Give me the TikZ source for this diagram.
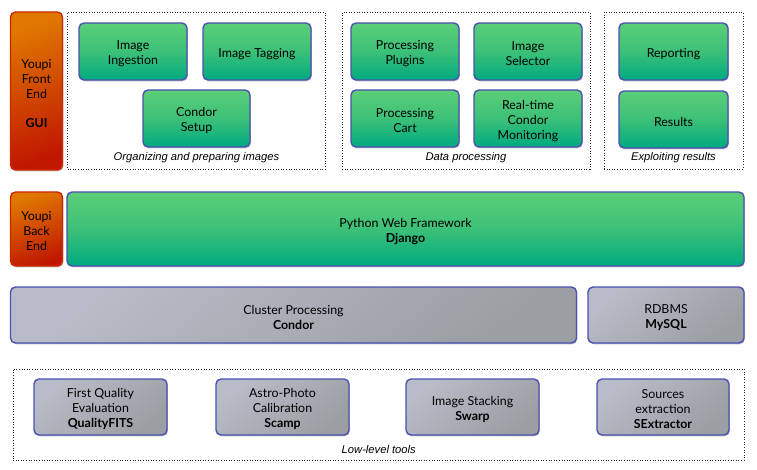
\documentclass[tikz,border=0pt]{standalone}
\usepackage{fontspec}
\setmainfont{Lato}
\newfontfamily\labfont{Liberation Sans}
\usetikzlibrary{shadows}
\definecolor{gtop}{HTML}{5CCE78}
\definecolor{gmid}{HTML}{3CC078}
\definecolor{gbot}{HTML}{00AA80}
\definecolor{bord}{HTML}{4B50B2}
\definecolor{otop}{HTML}{E07800}
\definecolor{obot}{HTML}{C01800}
\definecolor{obord}{HTML}{CC2600}
\definecolor{grtop}{HTML}{B8BCC8}
\definecolor{grbot}{HTML}{9B9EA2}
\begin{document}
\begin{tikzpicture}[x=1pt,y=-1pt,
  box/.style={rounded corners=5pt, line width=1.4pt, inner sep=0pt,
    drop shadow={shadow xshift=0.8pt, shadow yshift=-1.3pt, opacity=0.25, fill=black}},
  greenbox/.style={box, draw=bord, top color=gtop, bottom color=gbot, middle color=gmid},
  orangebox/.style={box, draw=obord, top color=otop, bottom color=obot, shading angle=20},
  greybox/.style={box, draw=bord, top color=grtop, bottom color=grbot, shading angle=40},
  boxtext/.style={align=center, inner sep=0pt, yshift=-2.3pt,
    font=\fontsize{12.4}{15}\selectfont},
  dotbox/.style={draw=black!85, line width=0.7pt, dash pattern=on 1pt off 1.6pt, inner sep=0pt},
  grplabel/.style={font=\labfont\itshape\fontsize{11.2}{13}\selectfont, inner sep=0pt}
]
\useasboundingbox (0,0) rectangle (757,470);

% group frames
\node[dotbox, minimum width=258pt, minimum height=156.5pt] (grp1) at (196.5,90.75) {};
\node[dotbox, minimum width=248pt, minimum height=156.5pt] (grp2) at (466,90.75) {};
\node[dotbox, minimum width=139pt, minimum height=156.5pt] (grp3) at (673.5,90.75) {};
\node[dotbox, minimum width=731.5pt, minimum height=91pt] (grp4) at (378.75,414.5) {};

% front end
\node[orangebox, minimum width=52pt, minimum height=158pt] (fe) at (36.5,91) {};
\node[boxtext] (fe-t) at (fe.center) {Youpi\\Front\\End\\[14pt]{\bfseries GUI}};

% group 1
\node[greenbox, minimum width=108pt, minimum height=57pt] (ingest) at (133,51.5) {};
\node[boxtext] (ingest-t) at (ingest.center) {Image\\Ingestion};
\node[greenbox, minimum width=108pt, minimum height=57pt] (tag) at (257,51.5) {};
\node[boxtext] (tag-t) at (tag.center) {Image Tagging};
\node[greenbox, minimum width=107pt, minimum height=57pt] (csetup) at (196.5,118.5) {};
\node[boxtext] (csetup-t) at (csetup.center) {Condor\\Setup};
\node[grplabel] (l1) at (196.5,158) {Organizing and preparing images};

% group 2
\node[greenbox, minimum width=108pt, minimum height=57pt] (plug) at (405,51.5) {};
\node[boxtext] (plug-t) at (plug.center) {Processing\\Plugins};
\node[greenbox, minimum width=108pt, minimum height=57pt] (sel) at (528,51.5) {};
\node[boxtext] (sel-t) at (sel.center) {Image\\Selector};
\node[greenbox, minimum width=108pt, minimum height=57pt] (cart) at (405,118.5) {};
\node[boxtext] (cart-t) at (cart.center) {Processing\\Cart};
\node[greenbox, minimum width=108pt, minimum height=57pt] (mon) at (528,118.5) {};
\node[boxtext] (mon-t) at (mon.center) {Real-time\\Condor\\Monitoring};
\node[grplabel] (l2) at (466,158) {Data processing};

% group 3
\node[greenbox, minimum width=109pt, minimum height=57pt] (rep) at (673.5,51.5) {};
\node[boxtext] (rep-t) at (rep.center) {Reporting};
\node[greenbox, minimum width=109pt, minimum height=57pt] (res) at (673.5,119.5) {};
\node[boxtext] (res-t) at (res.center) {Results};
\node[grplabel] (l3) at (673.5,158) {Exploiting results};

% back end row
\node[orangebox, minimum width=52pt, minimum height=74pt] (be) at (36.5,229) {};
\node[boxtext] (be-t) at (be.center) {Youpi\\Back\\End};
\node[greenbox, minimum width=677pt, minimum height=74pt] (django) at (405.5,229) {};
\node[boxtext] (django-t) at (django.center) {Python Web Framework\\{\bfseries Django}};

% cluster row
\node[greybox, minimum width=566pt, minimum height=56pt] (condor) at (293.5,315) {};
\node[boxtext] (condor-t) at (condor.center) {Cluster Processing\\{\bfseries Condor}};
\node[greybox, minimum width=156pt, minimum height=56pt] (mysql) at (666,315) {};
\node[boxtext] (mysql-t) at (mysql.center) {RDBMS\\{\bfseries MySQL}};

% low-level tools
\node[greybox, minimum width=133pt, minimum height=56pt] (qf) at (100.5,407) {};
\node[boxtext] (qf-t) at (qf.center) {First Quality\\Evaluation\\{\bfseries QualityFITS}};
\node[greybox, minimum width=133pt, minimum height=56pt] (scamp) at (282.5,407) {};
\node[boxtext] (scamp-t) at (scamp.center) {Astro-Photo\\Calibration\\{\bfseries Scamp}};
\node[greybox, minimum width=133pt, minimum height=56pt] (swarp) at (472.5,407) {};
\node[boxtext] (swarp-t) at (swarp.center) {Image Stacking\\{\bfseries Swarp}};
\node[greybox, minimum width=132pt, minimum height=56pt] (sex) at (663,407) {};
\node[boxtext] (sex-t) at (sex.center) {Sources\\extraction\\{\bfseries SExtractor}};
\node[grplabel] (l4) at (378.75,449) {Low-level tools};
\end{tikzpicture}
\end{document}
